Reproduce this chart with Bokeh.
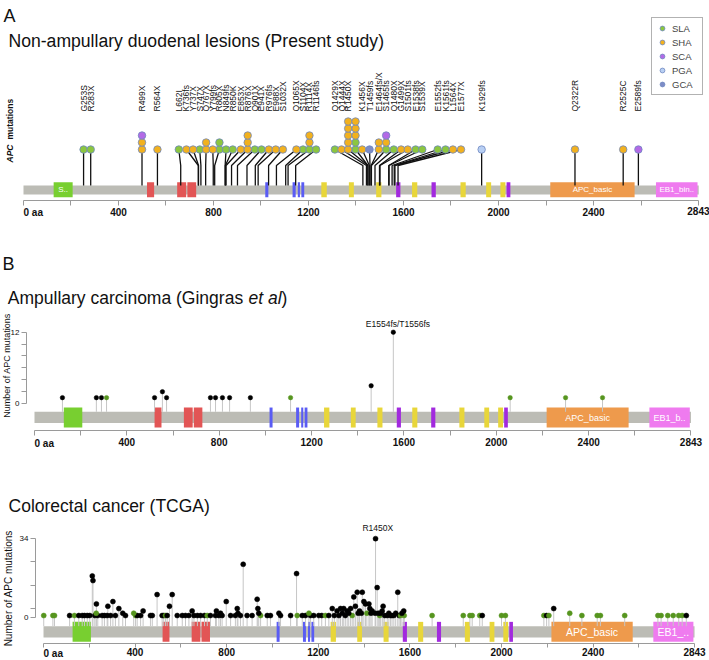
import math
from bokeh.plotting import figure
from bokeh.models import Range1d, FixedTicker, Label, Legend, LegendItem, ColumnDataSource
from bokeh.layouts import column
from bokeh.embed import file_html
from bokeh.resources import INLINE
from bokeh.core.properties import value

FONT = "Liberation Sans"
W = 709

# ---------------- shared protein model ----------------
PROTEIN_LENGTH = 2843
AXIS_TICKS = [0, 200, 400, 600, 800, 1000, 1200, 1400, 1600, 1800, 2000, 2200, 2400, 2600, 2843]
AXIS_TICK_TEXT = {400: "400", 800: "800", 1200: "1200", 1600: "1600", 2000: "2000", 2400: "2400"}
FIRST_TICK_TEXT = "0 aa"
LAST_TICK_TEXT = "2843"

DOMAIN_START = [127, 520, 647, 690, 1018, 1133, 1155, 1170, 1254, 1370, 1485, 1569, 1636, 1718, 1840, 1948, 2008, 2034, 2218, 2663]
DOMAIN_END = [207, 550, 685, 727, 1031, 1146, 1164, 1182, 1277, 1391, 1507, 1587, 1658, 1736, 1862, 1969, 2029, 2050, 2573, 2838]
DOMAIN_TYPE = ["APC_N", "Arm", "Arm", "Arm", "APC_15", "APC_15", "APC_15", "APC_15", "APC_r", "APC_r", "APC_r",
               "SAMP", "APC_r", "SAMP", "APC_r", "APC_r", "APC_r", "SAMP", "APC_basic", "EB1_bind"]
DOMAIN_COLOR = {"APC_N": "#78cf30", "Arm": "#e25555", "APC_15": "#5a5cf4", "APC_r": "#e8d63a",
                "SAMP": "#a22ade", "APC_basic": "#ee9a4c", "EB1_bind": "#ef7bef"}
DOMAIN_TEXT_A = {"APC_N": "S..", "APC_basic": "APC_basic", "EB1_bind": "EB1_bin.."}
DOMAIN_TEXT_B = {"APC_basic": "APC_basic", "EB1_bind": "EB1_b.."}
DOMAIN_TEXT_C = {"APC_basic": "APC_basic", "EB1_bind": "EB1_.."}

# ---------------- panel A data ----------------
CLASS_ORDER = ["SLA", "SHA", "SCA", "PGA", "GCA"]
CLASS_COLOR = {"SLA": "#8cc63f", "SHA": "#f2b11e", "SCA": "#b36ae6", "PGA": "#b8cff3", "GCA": "#7d8cc6"}

A_COL_AA = [253, 283, 499, 564, 662, 736, 737, 747, 767, 799, 805, 849, 850, 853, 876, 901, 941, 976, 988, 1032,
            1065, 1104, 1114, 1146, 1429, 1444, 1450, 1450, 1456, 1459, 1464, 1465, 1480, 1499, 1501, 1538, 1539,
            1552, 1561, 1564, 1577, 1929, 2322, 2525, 2589]
A_COL_DISPLAY = [253, 283, 499, 564, 654, 686, 714, 742, 769, 797, 825, 853, 881, 915, 944, 974, 1002, 1033, 1062, 1092,
                 1149, 1177, 1204, 1232, 1311, 1339, 1367, 1398, 1426, 1457, 1496, 1527, 1559, 1590, 1618, 1651, 1679,
                 1744, 1777, 1808, 1842, 1929, 2322, 2525, 2589]
A_COL_LABEL = ["G253S", "R283X", "R499X", "R564X", "L662I", "K736fs", "Y737X", "S747X", "Q767X", "Y799fs", "R805X",
               "N849fs", "R850K", "E853X", "R876X", "Q901X", "E941X", "R976fs", "E988X", "S1032X",
               "Q1065X", "S1104X", "R1114X", "R1146fs", "Q1429X", "Q1444X", "R1450X", "", "K1456X", "T1459fs",
               "E1464fs/X", "S1465fs", "Q1480X", "G1499X", "S1501fs", "E1538fs", "S1539X",
               "E1552fs", "K1561fs", "L1564X", "E1577X", "K1929fs", "Q2322R", "R2525C", "E2589fs"]
A_COL_CASES = [["SLA"], ["SLA"], ["SHA", "SHA", "SCA"], ["SHA"], ["SLA"], ["SHA"], ["SHA"], ["SLA"], ["SHA", "SHA"],
               ["SHA"], ["SLA", "SLA"], ["SLA"], ["SLA"], ["SHA"], ["SHA", "SHA", "SHA"], ["SLA"], ["SLA"], ["SHA"],
               ["SHA"], ["SHA"],
               ["SHA"], ["SLA"], ["SLA", "SHA", "SHA"], ["SLA"], ["SLA"], ["SHA"],
               ["SHA", "SHA", "SHA", "SHA", "SHA"], ["SLA", "SLA", "SHA", "SHA", "SHA"], ["SHA"], ["GCA"],
               ["SHA", "SHA"], ["SLA", "SHA", "SCA"], ["SLA"], ["SHA"], ["SHA"], ["SLA"], ["SLA"],
               ["SLA"], ["SLA"], ["SHA"], ["SHA"], ["PGA"], ["SHA"], ["SHA"], ["SCA"]]

# ---------------- panel B data (Gingras et al) ----------------
B_POS = [121, 268, 290, 312, 520, 554, 572, 762, 784, 814, 845, 935, 1109, 1458, 1554, 2060, 2300, 2460]
B_COUNT = [1, 1, 1, 1, 1, 2, 1, 1, 1, 1, 1, 1, 1, 3, 12, 1, 1, 1]
B_TYPE = ["t", "t", "t", "m", "t", "t", "t", "t", "t", "t", "t", "t", "m", "t", "t", "m", "m", "m"]
B_HOTSPOT = "E1554fs/T1556fs"

# ---------------- panel C data (TCGA) ----------------
C_POS = [1, 41, 48, 114, 135, 154, 169, 179, 191, 202, 213, 216, 224, 230, 231, 237, 256, 266, 278, 281, 293, 303,
         314, 329, 346, 358, 394, 402, 409, 424, 435, 467, 475, 496, 518, 525, 533, 540, 550, 562, 584, 606, 620,
         635, 649, 657, 672, 686, 703, 715, 729, 751, 755, 766, 773, 780, 798, 817, 838, 846, 849, 860, 872, 889,
         911, 933, 936, 940, 948, 977, 991, 1028, 1035, 1079, 1105, 1108, 1130, 1144, 1159, 1166, 1180, 1202, 1215,
         1231, 1246, 1261, 1270, 1282, 1290, 1297, 1305, 1311, 1318, 1326, 1333, 1341, 1348, 1355, 1362, 1370,
         1374, 1380, 1388, 1392, 1399, 1406, 1412, 1421, 1425, 1430, 1435, 1450, 1448, 1457, 1462, 1468, 1472,
         1479, 1483, 1490, 1501, 1508, 1515, 1522, 1530, 1538, 1547, 1553, 1559, 1565, 1573, 1575, 1697, 1833,
         1862, 1872, 1905, 1916, 2000, 2017, 2185, 2197, 2207, 2228, 2298, 2351, 2418, 2432, 2538, 2683, 2697,
         2726, 2750, 2774, 2789, 2807]
C_COUNT = [1, 1, 1, 1, 1, 1, 1, 1, 1, 1, 18, 16, 1, 2, 6, 1, 1, 1, 1, 5, 1, 7,
           1, 4, 2, 1, 2, 1, 1, 1, 3, 1, 1, 10, 1, 1, 1, 1, 5, 10, 1, 1, 1,
           1, 3, 1, 1, 1, 1, 1, 1, 1, 3, 1, 2, 1, 7, 1, 1, 4, 2, 1, 23, 1,
           1, 8, 4, 2, 1, 1, 1, 2, 1, 1, 19, 1, 1, 1, 2, 1, 1, 1, 1,
           1, 1, 4, 1, 3, 1, 4, 2, 4, 1, 3, 2, 4, 1, 9, 5, 11,
           2, 3, 2, 11, 7, 6, 2, 6, 4, 2, 3, 34, 2, 13, 2, 1, 2,
           3, 5, 1, 1, 2, 1, 1, 1, 2, 11, 1, 1, 2, 3, 1, 1, 1,
           1, 1, 1, 1, 1, 1, 1, 1, 1, 4, 2, 1, 1, 1, 1, 1, 1,
           1, 1, 1, 1, 1]
C_TYPE = ["m", "m", "m", "t", "m", "t", "t", "t", "t", "t", "t", "t", "t", "m", "t", "t", "t", "t", "t", "t", "t", "t",
          "t", "t", "t", "t", "m", "m", "t", "t", "t", "t", "t", "t", "t", "t", "m", "t", "t", "t", "t", "t", "t",
          "t", "t", "t", "t", "t", "t", "m", "t", "t", "t", "t", "t", "t", "t", "t", "t", "t", "t", "t", "t", "t",
          "t", "t", "t", "t", "m", "t", "t", "t", "t", "t", "t", "m", "t", "t", "m", "t", "t", "t", "t",
          "m", "t", "t", "t", "t", "t", "t", "t", "t", "t", "t", "t", "t", "m", "t", "t", "t",
          "t", "t", "t", "t", "t", "t", "m", "t", "t", "t", "t", "t", "t", "t", "t", "m", "t",
          "t", "t", "t", "t", "t", "t", "t", "t", "t", "t", "t", "m", "t", "t", "m", "m", "m",
          "m", "m", "m", "t", "m", "m", "m", "t", "m", "t", "m", "m", "m", "m", "m", "m", "m",
          "m", "m", "m", "m", "t"]
C_HOTSPOT = "R1450X"

TYPE_COLOR = {"t": "#000000", "m": "#56951f"}
GRAY_BAR = "#bcbcb5"
STEM_GRAY = "#c6c6c6"
AXIS_GRAY = "#9a9a9a"
INK = "#111111"


def base_figure(height, x0, x1, y0, y1, axis_y, tick_out, standoff):
    p = figure(width=W, height=height, x_range=Range1d(x0, x1), y_range=Range1d(y0, y1),
               output_backend="svg", toolbar_location=None, min_border=0,
               min_border_left=0, min_border_right=0, min_border_top=0, min_border_bottom=0)
    p.outline_line_color = None
    p.grid.visible = False
    xa = p.xaxis[0]
    xa.fixed_location = axis_y
    xa.ticker = FixedTicker(ticks=AXIS_TICKS)
    xa.major_label_overrides = {t: AXIS_TICK_TEXT.get(t, "") for t in AXIS_TICKS}
    xa.bounds = (0, PROTEIN_LENGTH)
    xa.axis_line_color = AXIS_GRAY
    xa.major_tick_line_color = AXIS_GRAY
    xa.minor_tick_line_color = None
    xa.major_tick_in = 0
    xa.major_tick_out = tick_out
    xa.major_label_standoff = standoff
    xa.major_label_text_font = FONT
    xa.major_label_text_font_style = "bold"
    xa.major_label_text_font_size = "10px"
    xa.major_label_text_color = INK
    return p


def end_tick_labels(p, y, x_last, align_last):
    p.add_layout(Label(x=0, y=y, text=FIRST_TICK_TEXT, text_align="left", text_baseline="top",
                       text_font=FONT, text_font_style="bold", text_font_size="10px", text_color=INK))
    p.add_layout(Label(x=x_last, y=y, text=LAST_TICK_TEXT, text_align=align_last, text_baseline="top",
                       text_font=FONT, text_font_style="bold", text_font_size="10px", text_color=INK))


def protein(p, gray_bottom, gray_top, dom_bottom, dom_top, texts, font_size):
    p.quad(left=[0], right=[PROTEIN_LENGTH], bottom=[gray_bottom], top=[gray_top],
           fill_color=GRAY_BAR, line_color=None)
    src = ColumnDataSource(dict(left=DOMAIN_START, right=DOMAIN_END,
                                color=[DOMAIN_COLOR[t] for t in DOMAIN_TYPE]))
    p.quad(left="left", right="right", bottom=dom_bottom, top=dom_top, fill_color="color",
           line_color=None, source=src)
    tx, tt = [], []
    for s, e, t in zip(DOMAIN_START, DOMAIN_END, DOMAIN_TYPE):
        if t in texts:
            tx.append((s + e) / 2)
            tt.append(texts[t])
    p.text(x=tx, y=[(dom_bottom + dom_top) / 2] * len(tx), text=tt, text_align="center",
           text_baseline="middle", text_color="white", text_font=value(FONT), text_font_size=font_size)


def text_label(p, x, y, text, size, style="normal", align="left", baseline="alphabetic", angle=0.0):
    p.add_layout(Label(x=x, y=y, text=text, text_align=align, text_baseline=baseline, angle=angle,
                       text_font=FONT, text_font_style=style, text_font_size=size, text_color=INK))


# ===== Panel A: page y 0..226, data y = 200 - page y; x: page = 23 + 0.2375*aa =====
A_X0, A_X1 = -96.8, 2888.4
pA = base_figure(226, A_X0, A_X1, -26, 200, 0, 5, 2)
pA.yaxis.visible = False
protein(pA, 6, 15, 3.3, 18.3, DOMAIN_TEXT_A, "8px")
end_tick_labels(pA, -6, A_X1, "right")

ROW1, STEP, BEND, STEM_END, LABEL_BASE = 51, 7, 35, 15, 89
stem_xs = [[d, a, a] for d, a in zip(A_COL_DISPLAY, A_COL_AA)]
stem_ys = [[ROW1, BEND, STEM_END] for _ in A_COL_AA]
pA.multi_line(xs=stem_xs, ys=stem_ys, line_color=INK, line_width=1.3)

pts = {c: ([], []) for c in CLASS_ORDER}
for d, cases in zip(A_COL_DISPLAY, A_COL_CASES):
    for k, c in enumerate(cases):
        pts[c][0].append(d)
        pts[c][1].append(ROW1 + STEP * k)
items = []
for c in CLASS_ORDER:
    r = pA.scatter(x=pts[c][0], y=pts[c][1], size=7.5, marker="circle", fill_color=CLASS_COLOR[c],
                   line_color="#6f88c0", line_width=0.8)
    items.append(LegendItem(label=c, renderers=[r]))
legend = Legend(items=items, location=(651, 131), border_line_color="#666666", border_line_width=1,
                label_text_font=FONT, label_text_font_size="9.5px", glyph_width=12, glyph_height=12,
                label_height=12, spacing=2, padding=4, margin=0, label_standoff=4, label_width=26,
                background_fill_alpha=1)
pA.add_layout(legend)

lab_x = [d for d, t in zip(A_COL_DISPLAY, A_COL_LABEL) if t]
lab_t = [t for t in A_COL_LABEL if t]
pA.text(x=lab_x, y=[LABEL_BASE] * len(lab_x), text=lab_t, angle=math.pi / 2, text_align="left",
        text_baseline="middle", text_font=value(FONT), text_font_size="8.5px", text_color=INK)

text_label(pA, -84.2, 185, "A", "18px")
text_label(pA, -63.2, 159.4, "Non-ampullary duodenal lesions (Present study)", "17.6px")
text_label(pA, -54.7, 38, "APC", "8.5px", style="bold italic", baseline="middle", angle=math.pi / 2)
text_label(pA, -54.7, 61, "mutations", "8.5px", style="bold", baseline="middle", angle=math.pi / 2)


def count_panel(p, pos, cnt, typ, stem_base, ymax, ticks, size, axis_x):
    xs = [[a, a] for a in pos]
    ys = [[stem_base, c] for c in cnt]
    p.multi_line(xs=xs, ys=ys, line_color=STEM_GRAY, line_width=1)
    order = sorted(range(len(pos)), key=lambda i: cnt[i])
    p.scatter(x=[pos[i] for i in order], y=[cnt[i] for i in order], size=size, marker="circle",
              fill_color=[TYPE_COLOR[typ[i]] for i in order], line_color=[TYPE_COLOR[typ[i]] for i in order],
              line_width=0.5)
    ya = p.yaxis[0]
    ya.fixed_location = axis_x
    ya.ticker = FixedTicker(ticks=ticks)
    ya.major_label_overrides = {t: (str(t) if t in (0, ymax) else "") for t in ticks}
    ya.bounds = (0, ymax)
    ya.axis_line_color = AXIS_GRAY
    ya.major_tick_line_color = AXIS_GRAY
    ya.minor_tick_line_color = None
    ya.major_tick_in = 0
    ya.major_tick_out = 5
    ya.major_label_standoff = 2
    ya.major_label_text_font = FONT
    ya.major_label_text_font_size = "8px"
    ya.major_label_text_color = INK
    ya.major_label_orientation = "horizontal"


# ===== Panel B: page y 226..450, count = (403.1 - page)/5.95; x: page = 34 + 0.2309*aa =====
B_X0, B_X1 = -147.2, 2923.3
B_Y0, B_Y1 = -7.88, 29.76
pB = base_figure(224, B_X0, B_X1, B_Y0, B_Y1, -4.6, 5, 2)
protein(pB, -3.28, -1.38, -4.02, -0.66, DOMAIN_TEXT_B, "9px")
end_tick_labels(pB, -5.78, PROTEIN_LENGTH, "center")
count_panel(pB, B_POS, B_COUNT, B_TYPE, -1.38, 12, [0, 2, 4, 6, 8, 10, 12], 4.5, -34.6)
hi = B_COUNT.index(max(B_COUNT))
text_label(pB, B_POS[hi] + 20, 13.46, B_HOTSPOT, "8.5px", align="center")
text_label(pB, -138.6, 23.46, "B", "18px")
text_label(pB, -115.6, 17.75, "Ampullary carcinoma (Gingras ", "17.5px")
text_label(pB, 926.8, 17.75, "et al", "17.5px", style="italic")
text_label(pB, 1069.7, 17.75, ")", "17.5px")
text_label(pB, -118.2, 6.4, "Number of APC mutations", "9px", align="center", baseline="middle", angle=math.pi / 2)

# ===== Panel C: page y 450..660, count = (617.7 - page)/2.335; x: page = 43 + 0.229*aa =====
C_X0, C_X1 = -187.8, 2908.3
C_Y0, C_Y1 = -18.29, 71.82
pC = base_figure(210, C_X0, C_X1, C_Y0, C_Y1, -10.84, 4, 1)
protein(pC, -8.39, -3.55, -10.28, -1.71, DOMAIN_TEXT_C, "10.5px")
end_tick_labels(pC, -12.98, PROTEIN_LENGTH, "center")
count_panel(pC, C_POS, C_COUNT, C_TYPE, -3.55, 34, [0, 4, 14, 24, 34], 5, -34.93)
hi = C_COUNT.index(max(C_COUNT))
text_label(pC, C_POS[hi] + 10, 38.4, C_HOTSPOT, "8.5px", align="center")
text_label(pC, -152.8, 47.8, "Colorectal cancer (TCGA)", "17.5px")
text_label(pC, -150.7, 12.7, "Number of APC mutations", "10px", align="center", baseline="middle", angle=math.pi / 2)

layout = column(pA, pB, pC, spacing=0)
open("out.html", "w").write(file_html(layout, INLINE))
